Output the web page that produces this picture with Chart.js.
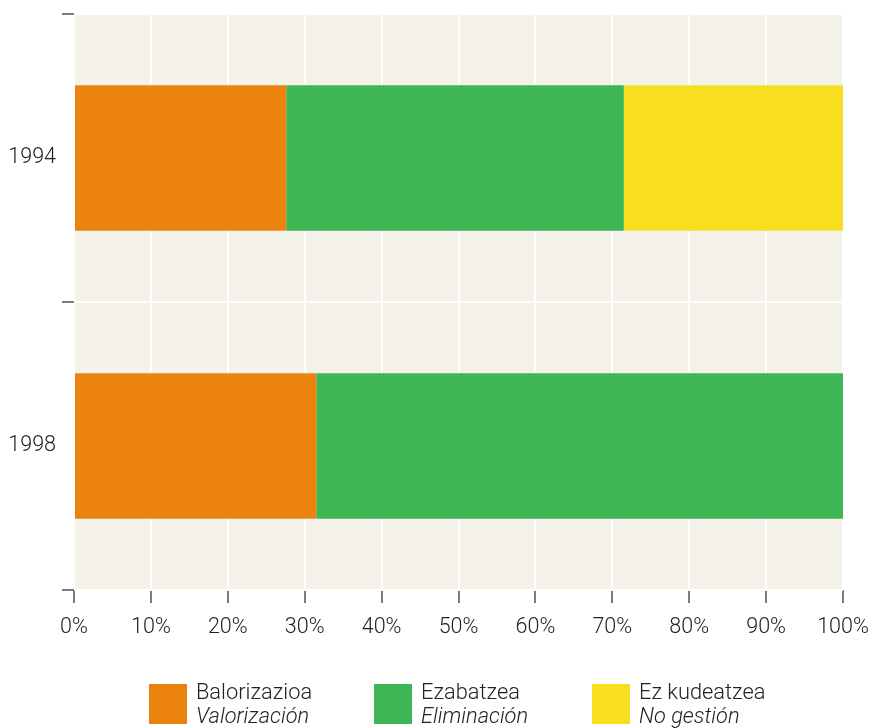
<!DOCTYPE html>
<html>
<head>
<meta charset="utf-8">
<script src="https://cdn.jsdelivr.net/npm/chart.js@4/dist/chart.umd.min.js"></script>
<style>
  body { margin: 0; background: #fff; }
  .wrap { position: relative; width: 870px; height: 728px; }
  canvas { position: absolute; left: 0; top: 0; }
  .legend { position: absolute; top: 684px; left: 0; width: 870px; font-family: Roboto, "Liberation Sans", sans-serif; font-weight: 300; font-size: 21.8px; color: #222; }
  .item { position: absolute; top: 0; }
  .item .sw { position: absolute; left: 0; top: 0; width: 38px; height: 40px; }
  .item .txt { position: absolute; left: 47px; top: -4px; line-height: 24px; white-space: nowrap; }
  .item .txt i { display: block; }
</style>
</head>
<body>
<div class="wrap">
  <canvas id="chart" width="870" height="728"></canvas>
  <div class="legend" id="legend"></div>
</div>
<script>
const years = ['1994', '1998'];
const valorizacion = [27.6, 31.5];
const eliminacion = [43.9, 68.5];
const noGestion = [28.5, 0];
const seriesNames = [
  ['Balorizazioa', 'Valorización'],
  ['Ezabatzea', 'Eliminación'],
  ['Ez kudeatzea', 'No gestión']
];
const colors = ['#ec830f', '#3fb655', '#f7df1e'];
const xTicks = [0, 10, 20, 30, 40, 50, 60, 70, 80, 90, 100];

const font = { family: 'Roboto, "Liberation Sans", sans-serif', size: 21.5, weight: '300' };

// beige plot background drawn before the grid
const plotBg = {
  id: 'plotBg',
  beforeDraw(chart) {
    const a = chart.chartArea;
    const ctx = chart.ctx;
    ctx.save();
    ctx.fillStyle = '#f5f2ea';
    ctx.fillRect(a.left, a.top, a.right - a.left, a.bottom - a.top);
    ctx.restore();
  }
};

new Chart(document.getElementById('chart'), {
  type: 'bar',
  data: {
    labels: years,
    datasets: [
      { label: seriesNames[0][0], data: valorizacion, backgroundColor: colors[0] },
      { label: seriesNames[1][0], data: eliminacion, backgroundColor: colors[1] },
      { label: seriesNames[2][0], data: noGestion, backgroundColor: colors[2] }
    ]
  },
  options: {
    indexAxis: 'y',
    responsive: false,
    animation: false,
    categoryPercentage: 1,
    barPercentage: 0.505,
    borderSkipped: false,
    layout: { padding: { left: 0, top: 14, right: 27, bottom: 88 } },
    plugins: { legend: { display: false }, tooltip: { enabled: false } },
    scales: {
      x: {
        stacked: true,
        min: 0,
        max: 100,
        afterBuildTicks(scale) {
          scale.ticks = xTicks.map(function (v) { return { value: v }; });
        },
        afterFit(scale) {
          scale.height = 50;
          scale.paddingLeft = 0;
          scale.paddingRight = 0;
        },
        border: { display: false },
        grid: { color: '#ffffff', lineWidth: 2, tickColor: '#222', tickWidth: 1.2, tickLength: 13 },
        ticks: {
          font: font, color: '#222', padding: 12,
          callback: function (v) { return v + '%'; }
        }
      },
      y: {
        stacked: true,
        afterFit(scale) {
          scale.width = 74;
          scale.paddingTop = 0;
          scale.paddingBottom = 0;
        },
        border: { display: false },
        grid: { offset: true, color: '#ffffff', lineWidth: 2, tickColor: '#222', tickWidth: 1.2, tickLength: 12 },
        ticks: { font: font, color: '#222', padding: 6 }
      }
    }
  },
  plugins: [plotBg]
});

// two-line legend (Basque / Spanish) as html text
const legendX = [149, 374, 592];
const legend = document.getElementById('legend');
seriesNames.forEach(function (names, i) {
  const item = document.createElement('div');
  item.className = 'item';
  item.style.left = legendX[i] + 'px';
  item.innerHTML = '<div class="sw" style="background:' + colors[i] + '"></div>' +
    '<div class="txt">' + names[0] + '<i>' + names[1] + '</i></div>';
  legend.appendChild(item);
});
</script>
</body>
</html>
